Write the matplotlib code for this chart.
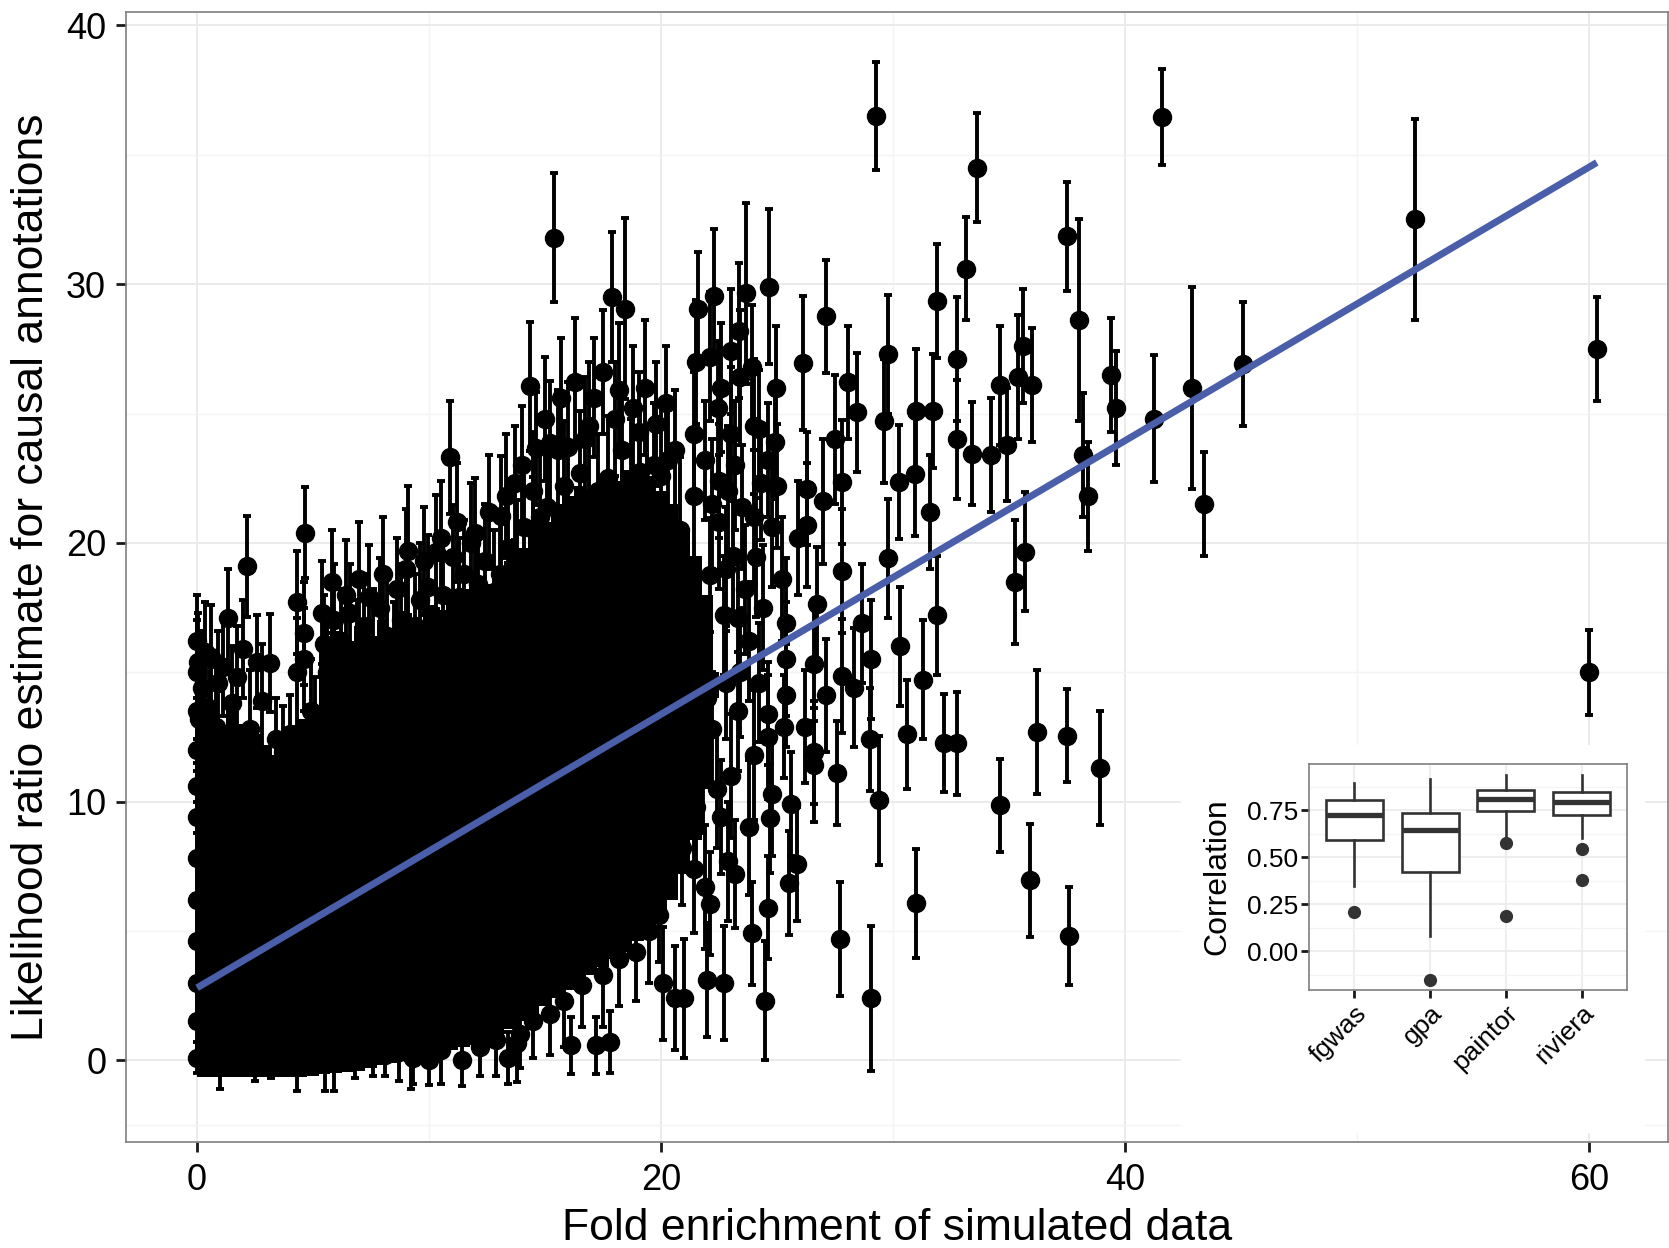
import numpy as np
import matplotlib
matplotlib.use('Agg')
import matplotlib.pyplot as plt
from matplotlib.ticker import FixedLocator, FormatStrFormatter

plt.rcParams['font.family'] = ['Liberation Sans', 'DejaVu Sans']

# ---------------- data ----------------
# dense, fully over-plotted core of thousands of points (envelope of the black mass)
core_x  = [0, 0.5, 1, 1.5, 2, 2.5, 3, 3.5, 4, 4.5, 5, 5.5, 6, 6.5, 7, 7.5, 8, 8.5, 9, 9.5,
           10, 10.5, 11, 11.5, 12, 12.5, 13, 13.5, 14, 14.5, 15, 15.5, 16, 16.5, 17, 17.5, 18, 18.5,
           19, 19.5, 20, 20.5, 21, 21.5, 22, 22.5]
core_hi = [12.5, 13.5, 12.8, 13.6, 13.0, 12.6, 12.2, 11.8, 12.4, 13.2, 13.5, 16.0, 16.6, 16.2, 16.8, 16.4,
           17.0, 16.6, 17.3, 17.0, 17.6, 17.4, 18.0, 18.2, 18.6, 18.4, 19.0, 19.3, 19.8, 20.3, 20.8, 21.5,
           21.8, 22.2, 22.0, 22.6, 22.4, 22.8, 22.5, 22.6, 22.0, 21.5, 20.5, 19.5, 18.0, 15.0]
core_lo = [-0.65, -0.65, -0.65, -0.65, -0.65, -0.65, -0.65, -0.65, -0.65, -0.65, -0.6, -0.55, -0.5, -0.45,
           -0.4, -0.3, -0.2, -0.1, 0.0, 0.1, 0.2, 0.3, 0.4, 0.5, 0.6, 0.8, 1.0, 1.2, 1.5, 1.8, 2.1, 2.4,
           2.7, 3.0, 3.3, 3.6, 3.9, 4.2, 4.6, 5.0, 5.5, 6.2, 7.2, 8.5, 10.5, 14.0]

# individual estimates (fold enrichment, LR estimate, error half-width)
left_edge_pts = [(0.0, 0.1, 0.6), (0.0, 1.5, 1.2), (0.0, 3.0, 1.5), (0.0, 4.6, 1.5), (0.0, 6.2, 1.6),
                 (0.0, 7.8, 1.7), (0.0, 9.4, 1.8), (0.0, 10.6, 1.8), (0.0, 12.0, 2.0), (0.0, 13.5, 2.0),
                 (0.0, 15.0, 2.0), (0.0, 16.2, 1.8)]

bottom_pts = [(1.0, 0.1, 1.2), (2.5, 0.0, 0.8), (3.2, 0.1, 0.8), (4.3, 0.2, 1.4), (5.5, 0.0, 1.2),
              (5.9, 0.1, 1.3), (6.8, 0.2, 0.9), (7.6, 0.3, 0.9), (8.1, 0.2, 0.8), (8.7, 0.3, 1.1),
              (9.2, 0.2, 1.3), (9.3, 0.1, 1.0), (10.0, 0.0, 0.95), (10.5, 0.4, 1.3), (11.4, 0.0, 1.0),
              (12.2, 0.5, 1.1), (12.9, 0.8, 1.4), (13.4, 0.1, 1.0), (13.8, 0.65, 1.5), (13.9, 1.0, 1.3),
              (14.5, 1.5, 1.4), (15.2, 1.8, 1.6), (15.8, 2.3, 1.8), (16.1, 0.58, 1.1), (16.6, 2.9, 1.6),
              (17.2, 0.58, 1.1), (17.5, 3.3, 2.0), (17.8, 0.7, 1.2), (18.2, 3.9, 1.8), (18.9, 4.2, 1.9),
              (19.5, 5.0, 2.0), (19.9, 5.6, 1.8), (20.1, 2.97, 2.2), (20.6, 2.4, 2.0), (21.0, 2.4, 2.3),
              (22.0, 3.1, 2.2), (22.7, 3.0, 2.2), (24.5, 2.3, 2.3)]

upper_left_pts = [(0.05, 15.4, 1.9), (0.1, 13.2, 2.1), (0.2, 14.4, 2.2), (0.35, 15.8, 1.9), (0.5, 13.6, 2.2),
                  (0.6, 15.6, 2.0), (0.8, 12.9, 2.3), (0.9, 14.6, 2.0), (1.1, 15.2, 1.9), (1.35, 17.1, 1.9),
                  (1.5, 13.8, 2.2), (1.7, 14.8, 2.0), (2.0, 15.9, 1.9), (2.14, 19.1, 1.95), (2.3, 12.8, 2.3),
                  (2.6, 15.4, 1.8), (2.8, 13.9, 2.2), (3.15, 15.35, 1.9), (3.4, 12.4, 1.6), (3.7, 11.9, 1.8),
                  (4.0, 12.6, 1.5), (4.3, 15.0, 2.1), (4.3, 17.7, 2.0), (4.6, 16.5, 2.0), (4.6, 15.5, 2.0),
                  (4.65, 20.4, 1.75), (4.9, 13.5, 2.0), (5.1, 12.9, 1.9)]

upper_mid_pts = [(5.4, 17.3, 2.0), (5.45, 16.1, 1.9), (5.6, 15.0, 2.2), (5.8, 18.5, 2.0), (5.9, 17.0, 2.2),
                 (6.2, 16.2, 2.0), (6.4, 18.0, 2.1), (6.6, 17.3, 1.9), (6.9, 15.7, 2.1), (7.0, 18.6, 2.2),
                 (7.2, 16.8, 2.0), (7.4, 17.9, 2.0), (7.6, 15.9, 2.3), (7.9, 17.5, 1.9), (8.0, 18.8, 2.2),
                 (8.2, 16.4, 2.3), (8.5, 15.6, 2.1), (8.6, 18.2, 2.0), (8.8, 17.0, 2.2), (9.0, 19.0, 2.3),
                 (9.1, 19.7, 2.5), (9.4, 16.8, 2.0), (9.6, 17.8, 2.2), (9.8, 19.3, 2.1), (9.95, 18.3, 2.0),
                 (10.3, 19.65, 2.2), (10.5, 20.2, 2.2), (10.6, 18.0, 2.4), (10.9, 23.3, 2.2), (11.05, 19.45, 2.0),
                 (11.2, 20.8, 2.3), (11.3, 17.9, 2.3), (11.5, 18.8, 2.1), (11.8, 20.0, 2.3), (12.0, 20.4, 2.1),
                 (12.1, 18.4, 2.0), (12.4, 19.3, 2.2), (12.6, 21.2, 2.2), (12.8, 18.1, 2.4), (13.05, 18.8, 2.2),
                 (13.1, 21.05, 2.3), (13.3, 21.8, 2.4), (13.4, 19.8, 2.0), (13.7, 22.3, 2.2), (13.8, 19.45, 2.2),
                 (14.0, 23.0, 2.3), (14.1, 20.6, 2.4), (14.35, 26.05, 2.5), (14.5, 22.0, 2.3), (14.5, 20.55, 2.0),
                 (14.6, 23.65, 2.2), (14.8, 21.0, 2.6)]

upper_right_pts = [(15.0, 24.8, 2.4), (15.1, 21.4, 2.2), (15.2, 23.85, 2.4), (15.4, 31.8, 2.5), (15.55, 23.6, 2.3),
                   (15.7, 25.6, 2.3), (15.8, 22.2, 2.5), (16.0, 23.7, 2.5), (16.3, 26.2, 2.5), (16.5, 22.7, 2.4),
                   (16.7, 24.0, 2.4), (16.9, 24.5, 2.5), (17.1, 25.6, 2.3), (17.3, 22.0, 2.2), (17.5, 26.6, 2.4),
                   (17.7, 22.5, 2.4), (17.9, 29.5, 2.5), (18.0, 24.8, 2.2), (18.2, 25.9, 2.6), (18.3, 23.6, 2.3),
                   (18.45, 29.05, 3.5), (18.7, 22.4, 2.4), (18.8, 25.2, 2.4), (19.05, 24.3, 2.3), (19.1, 22.75, 2.5),
                   (19.3, 26.0, 2.6), (19.4, 21.8, 2.6), (19.7, 23.0, 2.4), (19.8, 24.6, 2.4), (20.0, 22.6, 2.8),
                   (20.2, 25.4, 2.2), (20.3, 23.2, 2.4), (20.6, 23.6, 2.3), (20.8, 20.5, 2.8), (21.4, 21.8, 2.4),
                   (21.4, 24.2, 2.4), (21.5, 27.0, 2.4), (21.6, 29.05, 2.2), (21.9, 23.2, 2.3), (22.1, 27.2, 2.5),
                   (22.2, 21.5, 2.5), (22.3, 29.55, 2.6), (22.45, 25.2, 2.6), (22.5, 22.4, 2.2), (22.5, 20.8, 2.6),
                   (22.6, 26.0, 2.5), (22.9, 22.0, 2.5), (23.0, 27.4, 2.4), (23.0, 24.2, 2.6), (23.2, 23.0, 2.5),
                   (23.35, 28.2, 2.6), (23.4, 26.4, 2.6), (23.5, 21.4, 2.4), (23.65, 29.65, 3.5), (23.9, 26.8, 2.4),
                   (24.0, 24.5, 2.6), (24.0, 21.0, 2.6), (24.2, 24.4, 2.3), (24.3, 22.3, 2.2), (24.6, 23.2, 2.2),
                   (24.65, 29.9, 3.0), (24.8, 20.6, 2.3), (24.9, 23.9, 2.2), (24.95, 26.0, 2.4), (25.0, 22.2, 2.4),
                   (25.9, 20.2, 2.2), (26.1, 26.95, 2.6), (26.3, 20.7, 2.4), (26.3, 22.1, 2.2), (27.0, 21.6, 2.4),
                   (27.1, 28.75, 2.2), (27.5, 24.0, 2.5), (27.8, 22.35, 2.4), (28.05, 26.2, 2.2), (28.45, 25.05, 2.3)]

mid_right_pts = [(20.9, 8.2, 2.2), (21.2, 16.5, 2.2), (21.3, 12.0, 2.3), (21.4, 7.4, 2.5), (21.5, 9.8, 2.2),
                 (21.6, 15.0, 2.4), (21.8, 11.2, 2.4), (21.9, 6.7, 2.4), (22.0, 14.0, 2.2), (22.1, 6.05, 2.0),
                 (22.1, 18.75, 2.2), (22.2, 12.8, 2.2), (22.4, 10.5, 2.3), (22.6, 9.4, 2.2), (22.7, 17.2, 2.3),
                 (22.8, 14.6, 2.2), (22.8, 19.0, 2.4), (22.9, 7.7, 2.3), (23.0, 11.0, 2.4), (23.1, 19.5, 2.4),
                 (23.2, 7.2, 2.1), (23.3, 13.5, 2.3), (23.3, 17.1, 2.4), (23.4, 15.0, 2.5), (23.6, 18.2, 2.5),
                 (23.8, 9.0, 2.6), (23.8, 16.2, 2.3), (23.9, 4.9, 2.0), (24.0, 11.8, 2.5), (24.1, 19.45, 2.3),
                 (24.2, 14.6, 2.3), (24.4, 17.5, 2.4), (24.6, 5.9, 2.0), (24.6, 12.5, 2.4), (24.6, 13.4, 2.0),
                 (24.7, 9.35, 2.1), (24.8, 10.3, 2.4), (25.2, 18.6, 2.4), (25.3, 12.9, 2.0), (25.4, 14.1, 2.0),
                 (25.4, 15.5, 2.2), (25.4, 16.9, 2.5), (25.5, 6.85, 2.0), (25.6, 9.9, 2.0), (25.85, 7.6, 2.2),
                 (26.2, 12.9, 2.2), (26.6, 11.4, 2.2), (26.6, 11.9, 2.0), (26.6, 15.3, 2.2), (26.7, 17.65, 2.2),
                 (27.1, 14.1, 2.2), (27.6, 11.1, 2.0), (27.7, 4.7, 2.2), (27.8, 14.85, 2.2), (27.8, 18.9, 2.4),
                 (28.3, 14.4, 2.3), (28.65, 16.9, 2.3), (29.0, 12.4, 2.0), (29.05, 2.4, 2.8), (29.05, 15.5, 2.3),
                 (29.4, 10.05, 2.5)]

far_right_pts = [(29.25, 36.5, 2.1), (29.6, 24.7, 2.4), (29.8, 27.3, 2.3), (29.8, 19.4, 2.3), (30.25, 22.35, 2.2),
                 (30.3, 16.0, 2.3), (30.6, 12.6, 2.1), (30.95, 22.65, 2.4), (31.0, 25.1, 2.4), (31.0, 6.07, 2.1),
                 (31.3, 14.7, 2.3), (31.6, 21.2, 2.2), (31.7, 25.1, 2.2), (31.9, 29.35, 2.2), (31.9, 17.2, 2.3),
                 (32.2, 12.25, 1.9), (32.75, 27.1, 2.4), (32.75, 24.0, 2.3), (32.75, 12.25, 2.0), (33.15, 30.6, 2.0),
                 (33.4, 23.45, 2.0), (33.6, 34.5, 2.1), (34.2, 23.4, 2.2), (34.6, 26.1, 2.3), (34.6, 9.85, 1.8),
                 (34.9, 23.8, 2.2), (35.25, 18.5, 2.4), (35.4, 26.4, 2.4), (35.6, 27.6, 2.2), (35.7, 19.65, 2.3),
                 (35.9, 6.95, 2.2), (36.0, 26.1, 2.2), (36.2, 12.7, 2.4), (37.5, 31.85, 2.1), (37.5, 12.55, 1.8),
                 (37.6, 4.8, 1.9), (38.0, 28.6, 3.9), (38.2, 23.4, 2.4), (38.4, 21.8, 2.1), (38.9, 11.3, 2.2),
                 (39.4, 26.5, 2.2), (39.6, 25.2, 2.2), (41.25, 24.8, 2.45), (41.6, 36.45, 1.85), (42.9, 26.0, 3.9),
                 (43.4, 21.5, 2.0), (45.1, 26.9, 2.4), (52.5, 32.5, 3.9), (60.0, 15.0, 1.65), (60.33, 27.5, 2.0)]

# linear fit line (start / end of fitted values)
fit_x = [0.0, 60.33]
fit_y = [2.8, 34.7]

# inset: correlation by method
methods = ['fgwas', 'gpa', 'paintor', 'riviera']
box_whislo = [0.347, 0.079, 0.61, 0.60]
box_q1     = [0.591, 0.422, 0.746, 0.725]
box_med    = [0.727, 0.643, 0.809, 0.795]
box_q3     = [0.807, 0.737, 0.857, 0.847]
box_whishi = [0.893, 0.915, 0.936, 0.936]
box_fliers = [[0.209], [-0.154], [0.575, 0.186], [0.544, 0.378]]

# ---------------- figure ----------------
W, H = 1669, 1248
fig = plt.figure(figsize=(W / 100, H / 100), dpi=100)
fig.patch.set_facecolor('white')

def fx(px):
    return px / W

def fy(py):
    return 1 - py / H

ax = fig.add_axes([fx(125.6), fy(1142), fx(1668) - fx(125.6), fy(12) - fy(1142)], zorder=1)
ax.set_xlim(-3.08, 63.4)
ax.set_ylim(-3.16, 40.52)
ax.set_axisbelow(True)

ax.xaxis.set_major_locator(FixedLocator([0, 20, 40, 60]))
ax.xaxis.set_minor_locator(FixedLocator([10, 30, 50]))
ax.yaxis.set_major_locator(FixedLocator([0, 10, 20, 30, 40]))
ax.yaxis.set_minor_locator(FixedLocator([-2.5, 5, 15, 25, 35]))
ax.grid(which='major', color='#EBEBEB', lw=1.4)
ax.grid(which='minor', color='#F4F4F4', lw=1.0)
for s in ax.spines.values():
    s.set_color('#7F7F7F')
    s.set_linewidth(1.2)
ax.tick_params(which='major', length=7, width=2, color='#1a1a1a', labelsize=26, labelcolor='black')
ax.tick_params(axis='x', which='major', pad=8)
ax.tick_params(axis='y', which='major', pad=7)
ax.tick_params(which='minor', length=0)

# over-plotted core
ax.fill_between(core_x, core_lo, core_hi, step='mid', color='black', lw=0, zorder=2)

all_pts = (left_edge_pts + bottom_pts + upper_left_pts + upper_mid_pts +
           upper_right_pts + mid_right_pts + far_right_pts)
px_ = np.array([p[0] for p in all_pts])
py_ = np.array([p[1] for p in all_pts])
pe_ = np.array([p[2] for p in all_pts])
ax.errorbar(px_, py_, yerr=pe_, fmt='o', color='black', ms=13, elinewidth=2.8,
            capsize=2.6, capthick=2.8, zorder=3)

ax.plot(fit_x, fit_y, color='#4a5ea9', lw=5.0, solid_capstyle='butt', zorder=4)

ax.set_xlabel('Fold enrichment of simulated data', fontsize=32)
ax.set_ylabel('Likelihood ratio estimate for causal annotations', fontsize=32)
ax.xaxis.label.set_va('center')
ax.yaxis.label.set_va('center')
ax.xaxis.set_label_coords(0.5, -(1228 - 1142) / 1130)
ax.yaxis.set_label_coords((32 - 125.6) / (1668 - 125.6), 0.5)

# white viewport behind the inset
bg = fig.add_axes([fx(1181), fy(1133), fx(1645) - fx(1181), fy(745) - fy(1133)], zorder=2)
bg.set_facecolor('white')
bg.set_xticks([])
bg.set_yticks([])
for s in bg.spines.values():
    s.set_visible(False)

# inset boxplot
axi = fig.add_axes([fx(1309), fy(990), fx(1627) - fx(1309), fy(764) - fy(990)], zorder=3)
stats = []
for i, m in enumerate(methods):
    stats.append(dict(label=m, whislo=box_whislo[i], q1=box_q1[i], med=box_med[i],
                      q3=box_q3[i], whishi=box_whishi[i], fliers=box_fliers[i]))
axi.bxp(stats, positions=[1, 2, 3, 4], widths=0.75, patch_artist=True, showcaps=False,
        boxprops=dict(facecolor='white', edgecolor='#333333', linewidth=1.9),
        medianprops=dict(color='#333333', linewidth=3.8, solid_capstyle='butt'),
        whiskerprops=dict(color='#333333', linewidth=1.9),
        flierprops=dict(marker='o', markerfacecolor='#333333', markeredgecolor='#333333', markersize=8.5))
axi.set_xlim(0.4, 4.6)
axi.set_ylim(-0.207, 0.996)
axi.set_axisbelow(True)
axi.yaxis.set_major_locator(FixedLocator([0, 0.25, 0.5, 0.75]))
axi.yaxis.set_minor_locator(FixedLocator([-0.125, 0.125, 0.375, 0.625, 0.875]))
axi.yaxis.set_major_formatter(FormatStrFormatter('%.2f'))
axi.grid(which='major', color='#EBEBEB', lw=1.2)
axi.grid(which='minor', axis='y', color='#F4F4F4', lw=0.9)
for s in axi.spines.values():
    s.set_color('#7F7F7F')
    s.set_linewidth(1.2)
axi.tick_params(which='major', length=6, width=2, color='#1a1a1a', labelsize=19, labelcolor='black', pad=2)
axi.tick_params(which='minor', length=0)
axi.set_xticks([1, 2, 3, 4])
axi.set_xticklabels(methods, rotation=45, ha='right', rotation_mode='anchor')
axi.set_ylabel('Correlation', fontsize=23)
axi.yaxis.label.set_va('center')
axi.yaxis.set_label_coords((1217 - 1309) / (1627 - 1309), 0.5)

fig.savefig('out.png', dpi=100, facecolor='white')
